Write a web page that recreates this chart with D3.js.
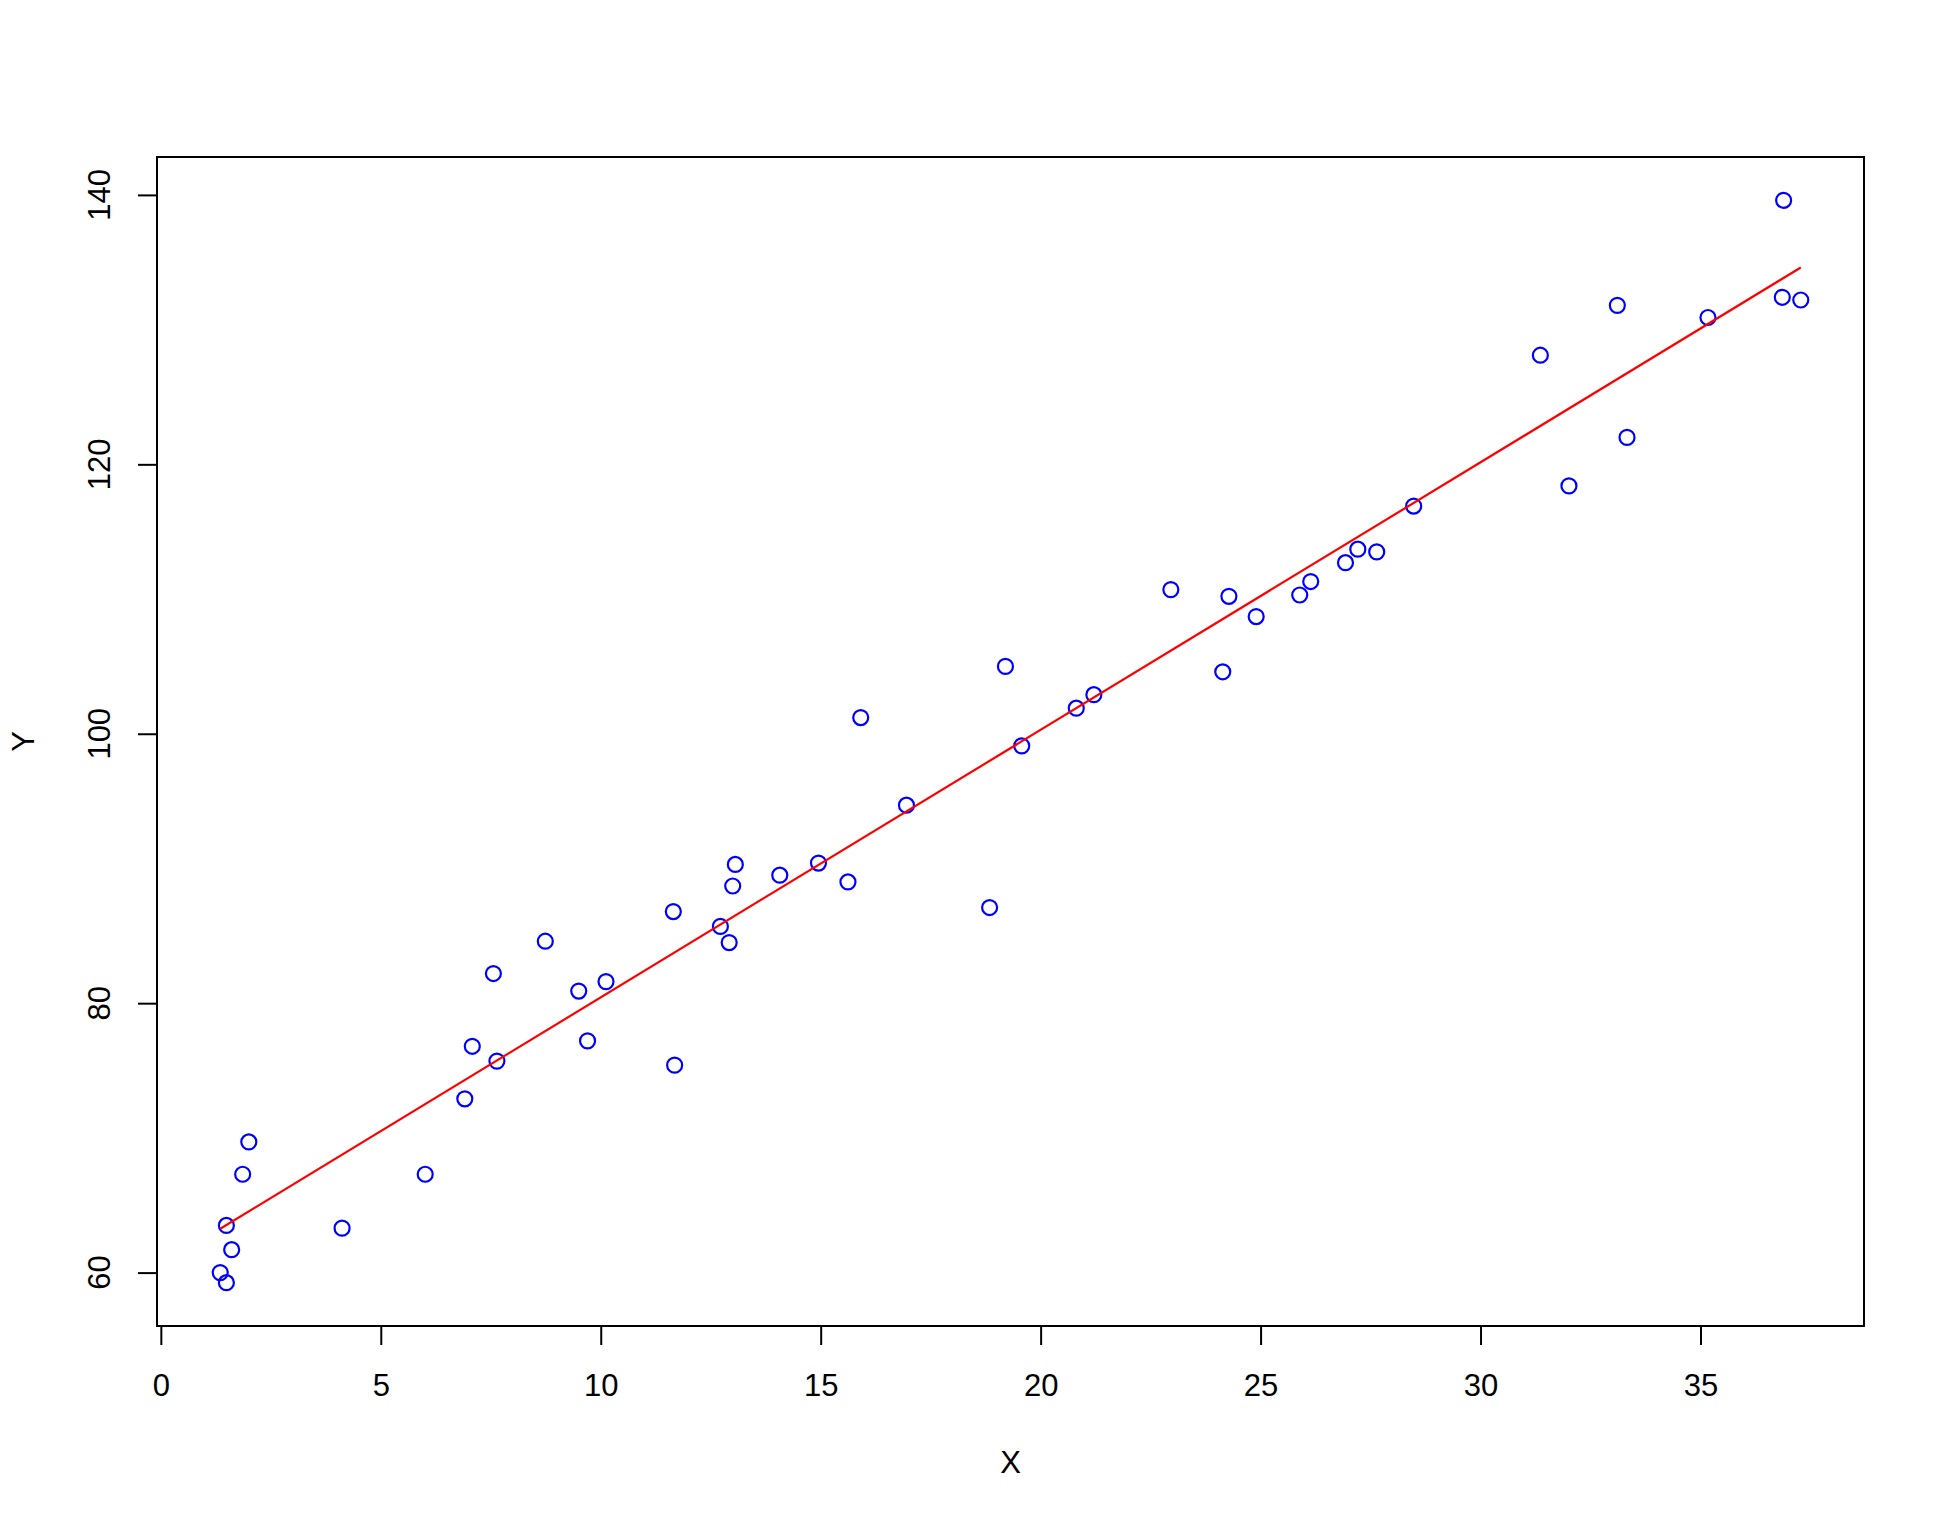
<!DOCTYPE html>
<html lang="en">
<head>
<meta charset="utf-8">
<title>Y vs X scatter with fitted line</title>
<script type="text/javascript" src="https://d3js.org/d3.v7.min.js"></script>
<style type="text/css">
  body { margin: 0; background-color: white; }
  svg { display: block; font-family: "Liberation Sans", Arial, Helvetica, sans-serif; }
</style>
</head>
<body>
<script type="text/javascript">
var xVals = [1.35, 1.49, 1.61, 1.49, 1.86, 2.00, 4.12, 6.01, 6.91, 7.08,
             7.64, 7.56, 8.74, 9.50, 9.70, 10.12, 11.65, 11.68, 12.72, 12.92,
             13.00, 13.06, 14.07, 14.95, 15.62, 15.91, 16.95, 18.84, 19.20, 19.57,
             20.81, 21.21, 22.96, 24.14, 24.28, 24.90, 25.89, 26.14, 26.93, 27.21,
             27.64, 28.48, 31.36, 32.01, 33.11, 33.33, 35.17, 36.89, 36.86, 37.28];
var yVals = [60.0, 59.25, 61.7, 63.5, 67.3, 69.7, 63.3, 67.3, 72.9, 76.8,
             75.7, 82.2, 84.6, 80.9, 77.2, 81.6, 86.8, 75.4, 85.7, 84.5,
             88.7, 90.3, 89.5, 90.4, 89.0, 101.2, 94.7, 87.1, 105.0, 99.1,
             101.9, 102.9, 110.7, 104.6, 110.2, 108.7, 110.3, 111.3, 112.7, 113.7,
             113.5, 116.9, 128.1, 118.4, 131.8, 122.0, 130.9, 139.6, 132.4, 132.2];
var xTicks = [0, 5, 10, 15, 20, 25, 30, 35];
var yTicks = [60, 80, 100, 120, 140];
var xTitle = "X";
var yTitle = "Y";

var w = 1944;
var h = 1522;
var margin = { top: 157, right: 80, bottom: 196, left: 157 };
var fontSize = 31;

var points = xVals.map(function(d, i) { return { x: d, y: yVals[i] }; });

// R style padding: 4% of the data range on each side
function padded(ext) {
  var r = ext[1] - ext[0];
  return [ext[0] - 0.04 * r, ext[1] + 0.04 * r];
}

var x = d3.scaleLinear()
    .domain(padded(d3.extent(xVals)))
    .range([margin.left, w - margin.right]);
var y = d3.scaleLinear()
    .domain(padded(d3.extent(yVals)))
    .range([h - margin.bottom, margin.top]);

var svg = d3.select("body")
    .append("svg")
    .attr("width", w)
    .attr("height", h);

// least squares fit
var mx = d3.mean(xVals), my = d3.mean(yVals);
var sxy = d3.sum(points, function(d) { return (d.x - mx) * (d.y - my); });
var sxx = d3.sum(points, function(d) { return (d.x - mx) * (d.x - mx); });
var slope = sxy / sxx;
var intercept = my - slope * mx;
var xr = d3.extent(xVals);
var fit = xr.map(function(v) { return { x: v, y: intercept + slope * v }; });

//points
svg.append("g")
  .selectAll("circle")
  .data(points)
  .enter().append("circle")
    .attr("cx", function(d) { return x(d.x); })
    .attr("cy", function(d) { return y(d.y); })
    .attr("r", 7.5)
    .attr("fill", "none")
    .attr("stroke", "blue")
    .attr("stroke-width", 2.2);

//fitted line
svg.append("path")
  .datum(fit)
  .attr("d", d3.line()
      .x(function(d) { return x(d.x); })
      .y(function(d) { return y(d.y); }))
  .attr("fill", "none")
  .attr("stroke", "red")
  .attr("stroke-width", 2.2);

//box
svg.append("rect")
  .attr("x", margin.left)
  .attr("y", margin.top)
  .attr("width", w - margin.left - margin.right)
  .attr("height", h - margin.top - margin.bottom)
  .attr("fill", "none")
  .attr("stroke", "black")
  .attr("stroke-width", 2);

//x axis
var xAxis = d3.axisBottom(x)
  .tickValues(xTicks)
  .tickSize(19)
  .tickPadding(29)
  .tickFormat(d3.format("d"));
var gx = svg.append("g")
  .attr("transform", "translate(0," + (h - margin.bottom) + ")")
  .call(xAxis);
gx.select(".domain").attr("stroke-width", 2)
  .attr("d", "M" + x(xTicks[0]) + ",0H" + x(xTicks[xTicks.length - 1]));
gx.selectAll(".tick line").attr("stroke-width", 2);
gx.selectAll("text")
  .attr("font-size", fontSize)
  .attr("font-family", "Liberation Sans, Arial, sans-serif")
  .attr("fill", "black");

//y axis, labels rotated like R does it
var yAxis = d3.axisLeft(y)
  .tickValues(yTicks)
  .tickSize(19)
  .tickFormat("");
var gy = svg.append("g")
  .attr("transform", "translate(" + margin.left + ",0)")
  .call(yAxis);
gy.select(".domain").attr("stroke-width", 2)
  .attr("d", "M0," + y(yTicks[0]) + "V" + y(yTicks[yTicks.length - 1]));
gy.selectAll(".tick line").attr("stroke-width", 2);

svg.append("g")
  .selectAll("text")
  .data(yTicks)
  .enter().append("text")
    .attr("transform", function(d) { return "translate(99," + y(d) + ") rotate(-90)"; })
    .attr("dy", "0.35em")
    .style("text-anchor", "middle")
    .attr("font-size", fontSize)
    .text(function(d) { return d; });

//axis titles
svg.append("text")
  .attr("x", (margin.left + w - margin.right) / 2)
  .attr("y", 1462)
  .attr("dy", "0.35em")
  .style("text-anchor", "middle")
  .attr("font-size", fontSize)
  .text(xTitle);

svg.append("text")
  .attr("transform", "translate(23," + (margin.top + h - margin.bottom) / 2 + ") rotate(-90)")
  .attr("dy", "0.35em")
  .style("text-anchor", "middle")
  .attr("font-size", fontSize)
  .text(yTitle);
</script>
</body>
</html>
